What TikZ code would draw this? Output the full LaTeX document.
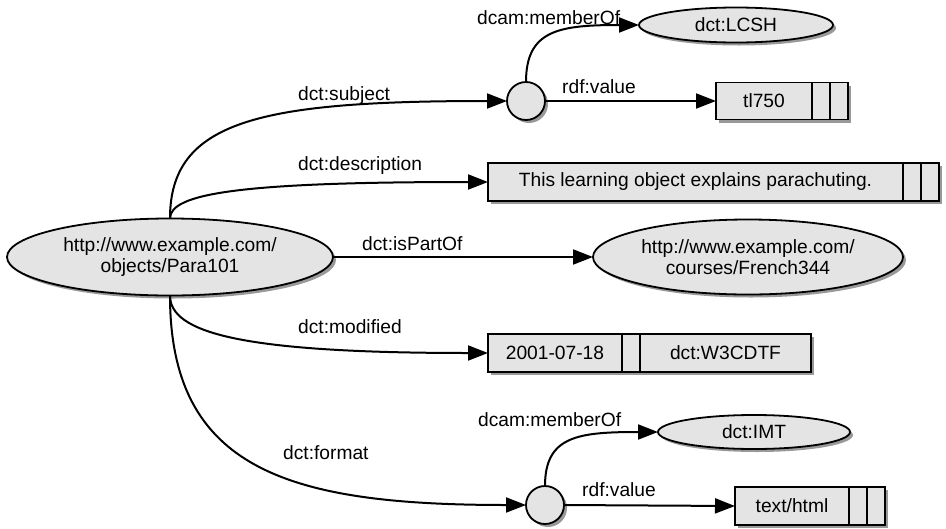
\documentclass[tikz,border=0pt]{standalone}
\usepackage{fontspec}
\setmainfont{Liberation Sans}
\usetikzlibrary{shapes.geometric,arrows.meta,shadows}
\definecolor{nodefill}{RGB}{228,228,228}
\begin{document}
\begin{tikzpicture}[x=1pt,y=-1pt,
  every node/.append style={font=\fontsize{19.2pt}{21pt}\selectfont},
  shp/.style={draw=black, line width=1.8pt, fill=nodefill, inner sep=0pt, outer sep=0pt,
     drop shadow={shadow xshift=3pt, shadow yshift=-3pt, fill=black, opacity=0.4}},
  res/.style={shp, ellipse, align=center},
  blank/.style={shp, circle, minimum size=38pt},
  lit/.style={shp, rectangle, minimum height=38pt},
  cell/.style={lit, minimum width=18pt, anchor=west},
  arc/.style={line width=2pt, -{Triangle[length=20pt,width=15pt]}},
  lbl/.style={anchor=base west, inner sep=0pt}]
\useasboundingbox (0,0) rectangle (946,528);

% resources
\node[res, minimum width=326pt, minimum height=77pt] (main) at (170,257)
  {http://www.example.com/\\objects/Para101};
\node[res, minimum width=310pt, minimum height=75pt] (french) at (748,257)
  {http://www.example.com/\\courses/French344};
\node[res, minimum width=194pt, minimum height=35pt] (lcsh) at (736,25) {dct:LCSH};
\node[res, minimum width=192pt, minimum height=34pt] (imt) at (754,432) {dct:IMT};

% blank nodes
\node[blank] (c1) at (526,101) {};
\node[blank] (c2) at (545,505) {};

% literals
\node[lit, minimum width=96pt, minimum height=37pt] (tl) at (764,101) {tl750};
\node[cell, minimum height=37pt] (tlA) at (tl.east) {};
\node[cell, minimum height=37pt] (tlB) at (tlA.east) {};

\node[lit, minimum width=415pt] (desc) at (695.5,182) {This learning object explains parachuting.};
\node[cell] (descA) at (desc.east) {};
\node[cell] (descB) at (descA.east) {};

\node[lit, minimum width=134pt] (date) at (555,353) {2001-07-18};
\node[cell] (dateA) at (date.east) {};
\node[lit, anchor=west, minimum width=171pt] (dtype) at (dateA.east) {dct:W3CDTF};

\node[lit, minimum width=114pt] (html) at (792,506) {text/html};
\node[cell] (htmlA) at (html.east) {};
\node[cell] (htmlB) at (htmlA.east) {};

% connectors
\draw[arc] (main.north) .. controls +(0,-98) and +(-247,0) .. (c1.west);
\draw[arc] (main.north) .. controls +(0,-25) and +(-248,0) .. (desc.west);
\draw[arc] (main.east) -- (french.west);
\draw[arc] (main.south) .. controls +(0,37) and +(-248,0) .. (date.west);
\draw[arc] (main.south) .. controls +(0,175) and +(-236,0) .. (c2.west);
\draw[arc] (c1.north) .. controls +(0,-52) and +(-80,0) .. (lcsh.west);
\draw[arc] (c1.east) -- (tl.west);
\draw[arc] (c2.north) .. controls +(0,-50) and +(-80,0) .. (imt.west);
\draw[arc] (c2.east) -- (html.west);

% labels
\node[lbl] (l1) at (477,24) {dcam:memberOf};
\node[lbl] (l2) at (298,100) {dct:subject};
\node[lbl] (l3) at (562,93) {rdf:value};
\node[lbl] (l4) at (298,170) {dct:description};
\node[lbl] (l5) at (362,250) {dct:isPartOf};
\node[lbl] (l6) at (298,333) {dct:modified};
\node[lbl] (l7) at (478,426) {dcam:memberOf};
\node[lbl] (l8) at (283,459) {dct:format};
\node[lbl] (l9) at (582,496) {rdf:value};
\end{tikzpicture}
\end{document}
